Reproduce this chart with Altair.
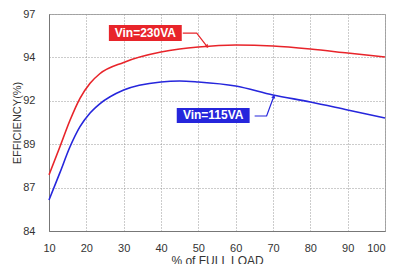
import altair as alt
import pandas as pd

load_pct = [10, 12.9, 15.6, 18.3, 21, 23.6, 30, 40, 45, 50, 60, 70, 80, 90, 100]
eff_230 = [87.36, 89.03, 90.62, 91.95, 92.85, 93.42, 94.1, 94.72, 94.9, 95.02, 95.14, 95.08, 94.90, 94.66, 94.42]
eff_115 = [85.86, 87.48, 89.03, 90.25, 91.07, 91.62, 92.45, 92.93, 92.99, 92.93, 92.69, 92.15, 91.73, 91.25, 90.77]
x_ticks = [10, 20, 30, 40, 50, 60, 70, 80, 90, 100]
y_ticks = [84, 86.6, 89.2, 91.8, 94.4, 97]

FONT = "Liberation Sans"
RED = "#e8242a"
BLUE = "#2626dc"

rows = []
for x, a, b in zip(load_pct, eff_230, eff_115):
    rows.append({"load": x, "eff": a, "series": "230"})
    rows.append({"load": x, "eff": b, "series": "115"})
df = pd.DataFrame(rows)

xs = alt.Scale(domain=[10, 100], nice=False)
ys = alt.Scale(domain=[84, 97], nice=False, zero=False)

x_axis = alt.Axis(values=x_ticks, title="% of FULL LOAD", grid=True, ticks=False, labelOverlap=False,
                  labelFlush=False, labelBound=False,
                  labelAlign=alt.ExprRef(expr="datum.value == 100 ? 'right' : 'center'"),
                  labelPadding=11, titlePadding=2, labelFontSize=11, titleFontSize=12,
                  labelFont=FONT, titleFont=FONT, titleFontWeight="normal",
                  labelColor="#333", titleColor="#333", domainColor="#777")
y_axis = alt.Axis(values=y_ticks, format=".0f", title="EFFICIENCY(%)", grid=True, ticks=False, labelOverlap=False,
                  labelFlush=False, labelBound=False,
                  labelPadding=14, titlePadding=0, labelFontSize=11, titleFontSize=11,
                  labelFont=FONT, titleFont=FONT, titleFontWeight="normal",
                  labelColor="#333", titleColor="#333", domainColor="#777")

lines = alt.Chart(df).mark_line(strokeWidth=1.6, interpolate="monotone").encode(
    x=alt.X("load:Q", scale=xs, axis=x_axis),
    y=alt.Y("eff:Q", scale=ys, axis=y_axis),
    color=alt.Color("series:N", scale=alt.Scale(domain=["230", "115"], range=[RED, BLUE]), legend=None),
    detail="series:N",
)

# annotation boxes
boxes = pd.DataFrame([
    {"x1": 26.04, "x2": 45.56, "y1": 96.34, "y2": 95.38, "xc": 35.8, "yc": 95.86, "label": "Vin=230VA", "c": RED},
    {"x1": 44.22, "x2": 63.74, "y1": 91.37, "y2": 90.47, "xc": 53.98, "yc": 90.92, "label": "Vin=115VA", "c": BLUE},
])
rects = alt.Chart(boxes).mark_rect().encode(
    x=alt.X("x1:Q", scale=xs, axis=x_axis), x2="x2:Q", y=alt.Y("y1:Q", scale=ys, axis=y_axis), y2="y2:Q",
    color=alt.Color("c:N", scale=None),
)
texts = alt.Chart(boxes).mark_text(font=FONT, fontSize=12, fontWeight="bold", color="white", baseline="middle").encode(
    x=alt.X("xc:Q", scale=xs, axis=x_axis), y=alt.Y("yc:Q", scale=ys, axis=y_axis), text="label:N",
)

conn = pd.DataFrame([
    {"x": 45.83, "y": 95.86, "k": "a", "o": 0, "c": RED},
    {"x": 49.57, "y": 95.86, "k": "a", "o": 1, "c": RED},
    {"x": 52.25, "y": 95.08, "k": "a", "o": 2, "c": RED},
    {"x": 65.08, "y": 90.89, "k": "b", "o": 0, "c": BLUE},
    {"x": 68.29, "y": 90.89, "k": "b", "o": 1, "c": BLUE},
    {"x": 70.16, "y": 92.03, "k": "b", "o": 2, "c": BLUE},
])
conn_lines = alt.Chart(conn).mark_line(strokeWidth=1.2).encode(
    x=alt.X("x:Q", scale=xs, axis=x_axis), y=alt.Y("y:Q", scale=ys, axis=y_axis), detail="k:N", order="o:Q",
    color=alt.Color("c:N", scale=None),
)
heads = pd.DataFrame([
    {"x": 52.25, "y": 95.08, "a": 142, "c": RED},
    {"x": 70.16, "y": 92.03, "a": 20, "c": BLUE},
])
arrow = alt.Chart(heads).mark_point(shape="triangle", filled=True, size=18, opacity=1).encode(
    x=alt.X("x:Q", scale=xs, axis=x_axis), y=alt.Y("y:Q", scale=ys, axis=y_axis), angle=alt.Angle("a:Q", scale=None),
    color=alt.Color("c:N", scale=None),
)

chart = alt.layer(lines, conn_lines, arrow, rects, texts).properties(
    width=336, height=217,
    autosize=alt.AutoSizeParams(type="none"),
    padding={"left": 41, "top": 6, "right": 2, "bottom": 33},
    background="white",
).configure_view(stroke="#aaa", strokeWidth=1).configure_axis(
    gridColor="#999", gridDash=[1, 2], gridWidth=1
)

chart.save("out.html", embed_options={"renderer": "svg", "actions": False})
